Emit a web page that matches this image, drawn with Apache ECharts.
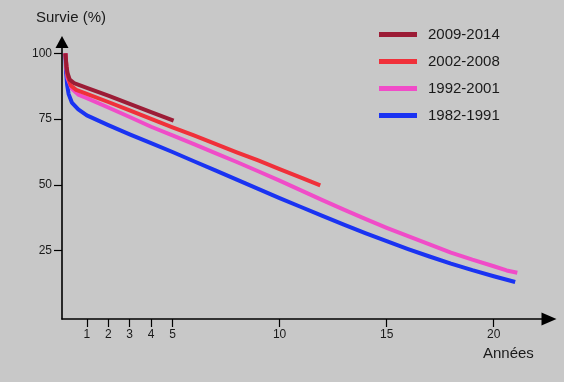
<!DOCTYPE html>
<html>
<head>
<meta charset="utf-8">
<script src="https://cdn.jsdelivr.net/npm/echarts@6/dist/echarts.min.js"></script>
<style>
html,body{margin:0;padding:0;background:#c8c8c8;}
#chart{width:564px;height:382px;}
</style>
</head>
<body>
<div id="chart"></div>
<script>
// Tick labels
var xTicks = [1, 2, 3, 4, 5, 10, 15, 20];
var yTicks = [25, 50, 75, 100];

// Series names (legend order)
var seriesNames = ['2009-2014', '2002-2008', '1992-2001', '1982-1991'];
var seriesColors = ['#9c1c36', '#f0303a', '#f04cc8', '#1a33f2'];

// 2009-2014
var yearsA = [0, 0.05, 0.1, 0.2, 0.4, 1, 2, 3, 4, 5.05];
var survA  = [100, 95, 92.5, 90, 88.7, 86.9, 83.9, 80.8, 77.7, 74.4];
// 2002-2008
var yearsB = [0, 0.05, 0.1, 0.25, 0.5, 1, 2, 3, 4, 5, 6, 7, 8, 9, 10, 11, 11.9];
var survB  = [100, 94.5, 91.5, 87.8, 86.1, 84.6, 81.5, 78.3, 75.1, 71.9, 68.8, 65.6, 62.4, 59.3, 56.0, 52.8, 49.8];
// 1992-2001
var yearsC = [0, 0.05, 0.1, 0.3, 0.6, 1, 2, 3, 4, 5, 6, 7, 8, 9, 10, 11, 12, 13, 14, 15, 16, 17, 18, 19, 20, 20.6, 21.1];
var survC  = [100, 94, 90.5, 86.5, 84.3, 83, 79.4, 75.8, 72.1, 68.8, 65.5, 62.1, 58.7, 55.2, 51.6, 47.9, 44.2, 40.6, 37.1, 33.7, 30.5, 27.4, 24.3, 21.6, 19.1, 17.5, 16.6];
// 1982-1991
var yearsD = [0, 0.03, 0.08, 0.15, 0.3, 0.6, 1, 2, 3, 4, 5, 6, 7, 8, 9, 10, 11, 12, 13, 14, 15, 16, 17, 18, 19, 20, 21];
var survD  = [100, 93, 88, 84.5, 81.3, 78.7, 76.4, 72.7, 69.2, 65.9, 62.5, 59, 55.5, 52, 48.5, 45, 41.6, 38.2, 34.9, 31.7, 28.6, 25.6, 22.8, 20.1, 17.6, 15.3, 13.1];

function pairs(xs, ys) { return xs.map(function (x, i) { return [x, ys[i]]; }); }

var allData = [pairs(yearsA, survA), pairs(yearsB, survB), pairs(yearsC, survC), pairs(yearsD, survD)];

var textColor = '#1a1a1a';
var font = 'Liberation Sans, Arial, sans-serif';

// draw order: blue bottom, dark red top
var series = [];
for (var i = 3; i >= 0; i--) {
  series.push({
    name: seriesNames[i],
    type: 'line',
    data: allData[i],
    showSymbol: false,
    symbol: 'none',
    smooth: false,
    lineStyle: { width: 4, color: seriesColors[i], cap: 'butt', join: 'round' },
    itemStyle: { color: seriesColors[i] },
    z: 3 + (3 - i)
  });
}

var chart = echarts.init(document.getElementById('chart'), null, { renderer: 'canvas' });
chart.setOption({
  animation: false,
  backgroundColor: '#c8c8c8',
  textStyle: { fontFamily: font },
  title: [
    { text: 'Survie (%)', left: 36, top: 10, padding: 0,
      textStyle: { fontSize: 15, fontWeight: 'normal', color: textColor, fontFamily: font } },
    { text: 'Années', left: 483, top: 346, padding: 0,
      textStyle: { fontSize: 15, fontWeight: 'normal', color: textColor, fontFamily: font } }
  ],
  legend: {
    data: seriesNames,
    orient: 'vertical',
    left: 379,
    top: 27,
    padding: 0,
    itemGap: 12,
    itemWidth: 38,
    itemHeight: 5,
    icon: 'rect',
    textStyle: { fontSize: 15, lineHeight: 15, color: textColor, fontFamily: font, padding: [0, 0, 0, 6] }
  },
  grid: { left: 62, right: 15, top: 42, bottom: 63, containLabel: false },
  xAxis: {
    type: 'value',
    min: -0.16,
    max: 22.58,
    splitLine: { show: false },
    axisLine: { show: true, onZero: false, symbol: ['none', 'triangle'], symbolSize: [13, 15],
      lineStyle: { color: '#000', width: 1.6 } },
    axisTick: { show: true, customValues: xTicks, length: 8, lineStyle: { color: '#000', width: 1.2 } },
    axisLabel: { show: true, customValues: xTicks, margin: 10, fontSize: 12, color: textColor, fontFamily: font }
  },
  yAxis: {
    type: 'value',
    min: -0.95,
    max: 104.3,
    splitLine: { show: false },
    axisLine: { show: true, onZero: false, symbol: ['none', 'triangle'], symbolSize: [13, 12],
      lineStyle: { color: '#000', width: 1.6 } },
    axisTick: { show: true, customValues: yTicks, length: 8, lineStyle: { color: '#000', width: 1.2 } },
    axisLabel: { show: true, customValues: yTicks, margin: 10, fontSize: 12, color: textColor, fontFamily: font }
  },
  series: series
});
</script>
</body>
</html>
